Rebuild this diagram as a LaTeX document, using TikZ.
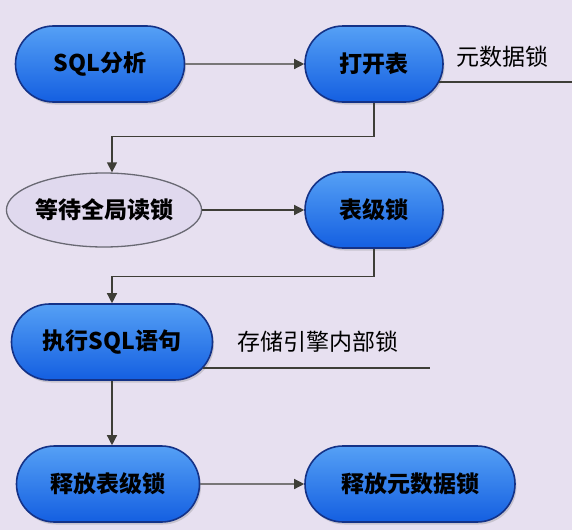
\documentclass[tikz,border=0pt]{standalone}
\usepackage{fontspec}
\setmainfont{Noto Sans CJK SC}
\usetikzlibrary{shapes.geometric,shapes.misc,arrows.meta,shadows}
\definecolor{bgcol}{RGB}{231,224,240}
\definecolor{boxtop}{RGB}{85,160,245}
\definecolor{boxbot}{RGB}{20,95,225}
\definecolor{boxline}{RGB}{20,50,135}
\definecolor{ovalfill}{RGB}{224,217,238}
\definecolor{ovalline}{RGB}{105,105,115}
\definecolor{arrowcol}{RGB}{62,62,55}
\begin{document}
\begin{tikzpicture}[x=1pt,y=-1pt,
  box/.style={rounded rectangle,draw=boxline,line width=1.6pt,top color=boxtop,bottom color=boxbot,
    minimum height=76pt,inner sep=0pt,font=\fontsize{23}{26}\selectfont\bfseries,
    drop shadow={shadow xshift=1.5pt,shadow yshift=-2.5pt,opacity=0.3}},
  oval/.style={ellipse,draw=ovalline,line width=1.3pt,fill=ovalfill,minimum width=175pt,
    minimum height=74pt,inner sep=0pt,font=\fontsize{23}{26}\selectfont\bfseries},
  note/.style={font=\fontsize{23}{26}\selectfont},
  flow/.style={draw=arrowcol,line width=1.3pt,-{Triangle[length=10pt,width=10pt]}},
  lockline/.style={draw=arrowcol,line width=1.3pt}]
\useasboundingbox (0,0) rectangle (572,530);
\fill [bgcol] (0,0) rectangle (572,530);
\node [box,minimum width=169pt] (sql) at (100,64) {SQL分析};
\node [box,minimum width=138pt] (open) at (374,64) {打开表};
\node [oval] (wait) at (104,210) {等待全局读锁};
\node [box,minimum width=138pt] (tbl) at (374,210) {表级锁};
\node [box,minimum width=201pt] (exec) at (112,342) {执行SQL语句};
\node [box,minimum width=183pt] (reltbl) at (108,484) {释放表级锁};
\node [box,minimum width=210pt] (relmd) at (410,484) {释放元数据锁};
\node [note] (mdlock) at (502,57) {元数据锁};
\node [note] (selock) at (318,342) {存储引擎内部锁};
\coordinate (mdend) at (572,82);
\coordinate (seend) at (430,368);
\path
(sql) edge [flow] (open)
(wait) edge [flow] (tbl)
(reltbl) edge [flow] (relmd)
;
\draw [flow] (open.south) -- ++(0,34) -| ([xshift=8pt]wait.north);
\draw [flow] (tbl.south) -- ++(0,28) -| (exec.north);
\draw [flow] (exec.south) -- (exec.south |- reltbl.north);
\draw [lockline] ([xshift=-5pt,yshift=-18pt]open.east) -- (mdend);
\draw [lockline] ([xshift=-10pt,yshift=-26pt]exec.east) -- (seend);
\end{tikzpicture}
\end{document}
